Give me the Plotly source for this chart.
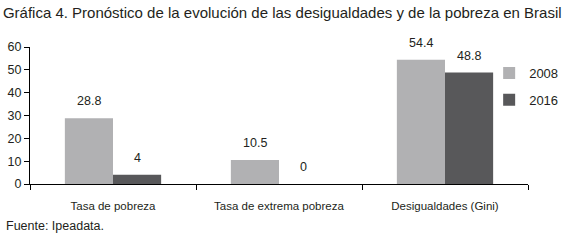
import plotly.graph_objects as go

categories = ["Tasa de pobreza", "Tasa de extrema pobreza", "Desigualdades (Gini)"]
values_2008 = [28.8, 10.5, 54.4]
values_2016 = [4, 0, 48.8]
series_names = ["2008", "2016"]
y_ticks = [0, 10, 20, 30, 40, 50, 60]

FONT = "Liberation Sans Narrow, Liberation Sans, Arial, sans-serif"
colors = ["#b1b1b3", "#58585a"]
TXT = "#231f20"

fig = go.Figure()
for name, vals, col in zip(series_names, [values_2008, values_2016], colors):
    fig.add_trace(go.Bar(x=categories, y=vals, name=name, marker_color=col,
                         marker_line_width=0, legendgroup=name))

# data labels
for i, (vals, off) in enumerate(zip([values_2008, values_2016], [-0.5, 0.5])):
    for j, v in enumerate(vals):
        fig.add_annotation(x=j + off * 0.29, y=v, xref="x", yref="y",
                           text=f"{v:g}", showarrow=False, yanchor="bottom",
                           yshift=8, font=dict(size=12.5, color=TXT, family=FONT))

fig.update_layout(
    width=575, height=241,
    margin=dict(l=30, r=38, t=47, b=57),
    paper_bgcolor="white", plot_bgcolor="white",
    barmode="group", bargap=0.42, bargroupgap=0,
    font=dict(family=FONT, size=12, color=TXT),
    showlegend=True,
    legend=dict(x=0.922, xanchor="left", y=0.92, yanchor="top",
                traceorder="grouped",
                font=dict(size=13, color=TXT, family=FONT),
                itemwidth=30, tracegroupgap=7, bgcolor="rgba(0,0,0,0)"),
    title=dict(text="Gráfica 4. Pronóstico de la evolución de las desigualdades y de la pobreza en Brasil",
               x=0.005, xanchor="left", y=0.97, yanchor="top",
               font=dict(size=15, color=TXT, family=FONT)),
    xaxis=dict(type="category", showline=True, linecolor="black", linewidth=1,
               ticks="outside", tickson="boundaries", ticklen=5, tickcolor="black",
               tickangle=0, automargin=False, ticklabelstandoff=11,
               tickfont=dict(size=11.5, color=TXT), showgrid=False),
    yaxis=dict(range=[0, 60], tickvals=y_ticks, showline=True, linecolor="black",
               linewidth=1, ticks="outside", ticklen=5, tickcolor="black",
               automargin=False,
               showgrid=False, zeroline=False, tickfont=dict(size=12.5, color=TXT)),
)

fig.add_annotation(text="Fuente: Ipeadata.", xref="paper", yref="paper",
                   x=-0.052, xanchor="left", y=-0.24, yanchor="top",
                   showarrow=False, font=dict(size=12.5, color=TXT, family=FONT))

fig.write_html("out.html", config={"displayModeBar": False},
               post_script="document.body.style.margin='0';document.body.style.overflow='hidden';")
